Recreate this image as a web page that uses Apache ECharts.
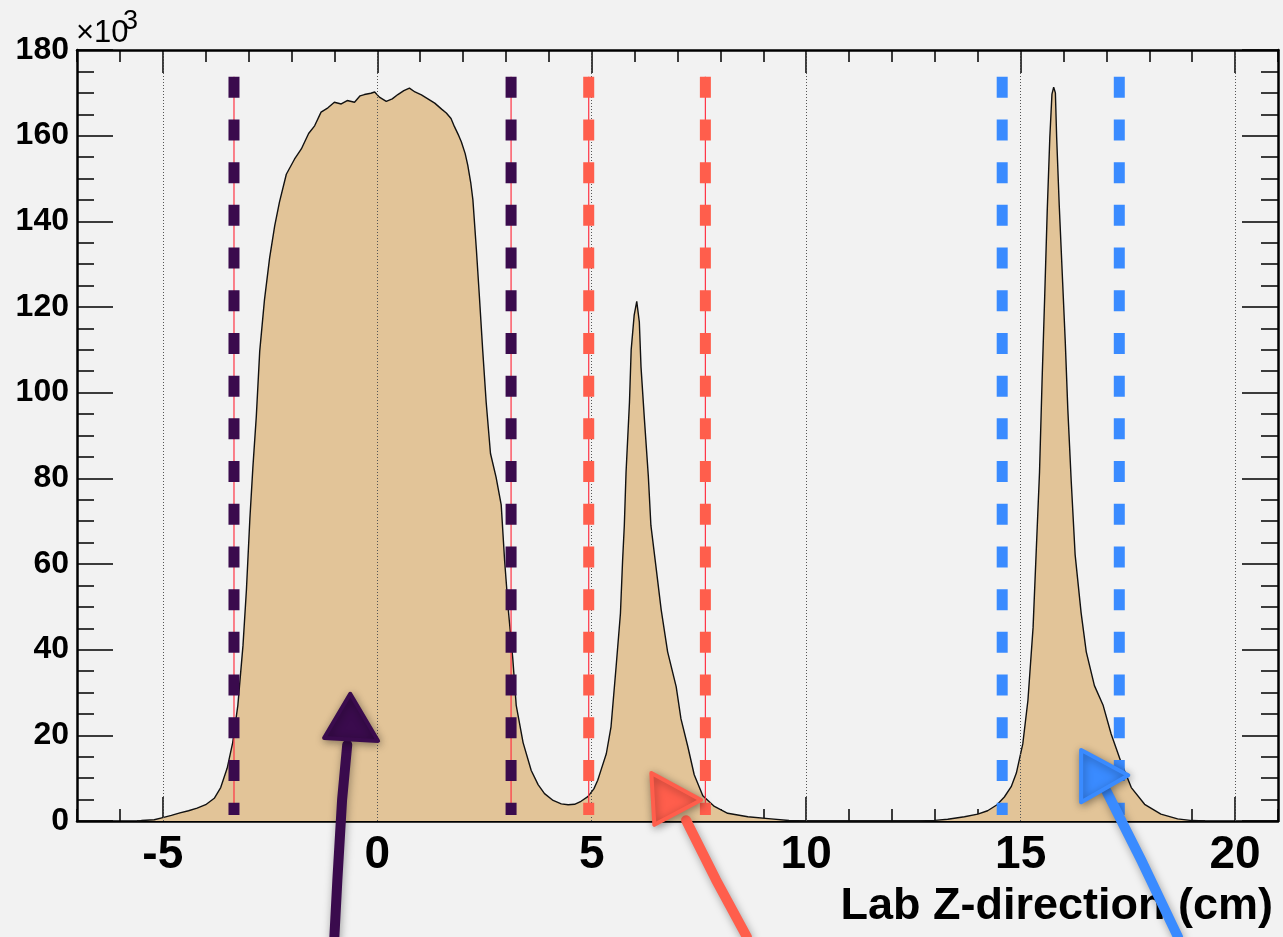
<!DOCTYPE html>
<html>
<head>
<meta charset="utf-8">
<script src="https://cdn.jsdelivr.net/npm/echarts@6/dist/echarts.min.js"></script>
<style>
  html, body { margin: 0; padding: 0; background: #f2f2f2; }
  #chart { width: 1283px; height: 937px; }
</style>
</head>
<body>
<div id="chart"></div>
<script>
// Vertex position along the beam (cm) and counts per bin (x10^3)
const zPos = [
  -5.6, -5.5, -5.2, -5.0, -4.8, -4.6, -4.4, -4.2, -4.0, -3.8, -3.65, -3.5, -3.37, -3.25, -3.13, -3.05,
  -2.97, -2.90, -2.82, -2.74, -2.63, -2.51, -2.39, -2.28, -2.12, -1.93, -1.77, -1.60, -1.46, -1.31,
  -1.15, -1.00, -0.84, -0.70, -0.53, -0.40, -0.30, -0.15, -0.06, 0.05, 0.21, 0.35, 0.48, 0.62, 0.75,
  0.88, 1.03, 1.18, 1.34, 1.50, 1.61, 1.72, 1.80, 1.90, 1.96, 2.05, 2.11, 2.18, 2.23, 2.31, 2.38,
  2.46, 2.54, 2.64, 2.77, 2.89, 2.97, 3.06, 3.16, 3.24, 3.40, 3.59, 3.75, 3.90, 4.10, 4.29, 4.45,
  4.60, 4.75, 4.91, 5.05, 5.14, 5.22, 5.34, 5.45, 5.57, 5.67, 5.72, 5.76, 5.80, 5.88, 5.92, 5.99,
  6.05, 6.11, 6.15, 6.23, 6.32, 6.38, 6.50, 6.62, 6.77, 6.97, 7.08, 7.24, 7.39, 7.59, 7.86, 8.17,
  8.64, 9.18, 9.60, 10.0, 12.6, 13.0, 13.3, 13.69, 14.0, 14.23, 14.45, 14.62, 14.78, 14.90, 15.05,
  15.17, 15.29, 15.36, 15.44, 15.50, 15.56, 15.62, 15.68, 15.73, 15.77, 15.81, 15.84, 15.90, 15.98,
  16.04, 16.10, 16.18, 16.27, 16.41, 16.53, 16.72, 16.92, 17.11, 17.35, 17.58, 17.89, 18.27, 18.66,
  19.0, 19.3
];
const counts = [
  0, 0.1, 0.3, 0.8, 1.3, 1.9, 2.4, 3.0, 3.8, 5.3, 7.8, 12.3, 18.3, 27, 41, 54,
  70.5, 82.5, 94.4, 109.7, 121.6, 131.4, 139, 144.5, 151, 154.5, 156.9, 160.5, 162.3, 165.5,
  166.5, 167.8, 167.4, 168.2, 167.8, 169.3, 169.6, 169.9, 170.2, 169.0, 168.0, 168.6, 169.6, 170.5, 171.1,
  170.2, 169.5, 168.6, 167.6, 166.2, 165.3, 164, 162.1, 160.0, 158.6, 155.8, 153.1, 149, 145, 133.6, 122.7,
  109.7, 97.7, 85.8, 80.3, 73.8, 60.7, 48.8, 37.9, 27, 18.3, 11.8, 8.5, 6.4, 4.8, 4.0, 3.8,
  3.9, 4.6, 5.7, 7.5, 9.5, 12, 15.7, 22, 36.2, 48.5, 60.8, 69, 81.3, 97.7, 110, 118.1,
  121.3, 116.5, 105.9, 93.6, 80.5, 69, 59.2, 49.3, 39.5, 31.3, 23.9, 17.4, 10.8, 5.9, 3.4, 1.8,
  1.0, 0.5, 0.1, 0, 0, 0.15, 0.4, 1.0, 1.6, 2.4, 3.8, 5.6, 8.0, 11.2, 18,
  28.2, 45.2, 62.2, 81.4, 102.9, 122.2, 142.5, 159.5, 169.7, 171.3, 170, 159.5, 143.7, 125.6,
  112, 96.1, 79.2, 62.2, 48.6, 39.5, 31.6, 27.1, 20.3, 13.5, 7.8, 3.9, 1.6, 0.5,
  0.1, 0
];

// Axis ticks and labels
const majorX = [-5, 0, 5, 10, 15, 20];
const xRange = [-7, 21];
const yRange = [0, 180];

// Selection windows (cm) and the span of the window markers (x10^3)
const windowPurple = [-3.34, 3.12];
const windowOrange = [4.93, 7.65];
const windowBlue = [14.57, 17.30];
const markerSpan = [173.75, 1.4];

// Hand-drawn arrows, in axis units: shaft polyline and head triangle
const arrowPurple = { shaft: [[-1.00, -27.1], [-0.93, -13.8], [-0.82, 4.9], [-0.70, 17.8]],
                      head: [[-1.24, 19.4], [-0.63, 29.7], [0.02, 18.7]] };
const arrowOrange = { shaft: [[8.62, -27.1], [7.90, -13.8], [7.20, 0.2]],
                      head: [[6.39, 11.2], [7.55, 4.9], [6.46, -0.9]] };
const arrowBlue   = { shaft: [[18.67, -27.1], [17.81, -9.1], [16.99, 7.2]],
                      head: [[16.41, 16.6], [17.51, 10.7], [16.41, 4.4]] };

const PURPLE = '#3a0b4d';
const ORANGE = '#ff5e4c';
const BLUE = '#3a8bff';
const FILL = '#e2c498';
const FONT = 'Liberation Sans, Arial, Helvetica, sans-serif';

const chart = echarts.init(document.getElementById('chart'), null, { renderer: 'canvas' });

function xAxisDef(pos, major, showLabel) {
  return {
    type: 'value', position: pos, min: xRange[0], max: xRange[1],
    interval: major ? undefined : 1,
    axisLine: { show: major, onZero: false, lineStyle: { color: '#000', width: 2.5 } },
    axisTick: major
      ? { inside: true, length: pos === 'bottom' ? 24 : 23, customValues: majorX, lineStyle: { color: '#000', width: 1.5 } }
      : { inside: true, length: 12, lineStyle: { color: '#000', width: 1.5 } },
    axisLabel: showLabel
      ? { show: true, customValues: majorX, fontSize: 46, fontWeight: 'bold', fontFamily: FONT, color: '#000', margin: 11 }
      : { show: false },
    splitLine: { show: false }
  };
}
function yAxisDef(pos, major, showLabel) {
  return {
    type: 'value', position: pos, min: yRange[0], max: yRange[1],
    interval: major ? 20 : 5,
    axisLine: { show: major, onZero: false, lineStyle: { color: '#000', width: 2.5 } },
    axisTick: { inside: true, length: major ? 36 : 17, lineStyle: { color: '#000', width: 1.5 } },
    axisLabel: showLabel
      ? { show: true, fontSize: 32, fontWeight: 'bold', fontFamily: FONT, color: '#000', margin: 8 }
      : { show: false },
    splitLine: { show: false }
  };
}

function windowSeries(xs, color, withGuide) {
  const out = [];
  xs.forEach(x => {
    const pts = [[x, markerSpan[0]], [x, markerSpan[1]]];
    if (withGuide) {
      out.push({
        type: 'line', data: pts, symbol: 'none', silent: true, z: 4,
        lineStyle: { color: '#ff3344', width: 1.2 }
      });
    }
    out.push({
      type: 'line', data: pts, symbol: 'none', silent: true, z: 5,
      lineStyle: { color: color, width: 11, type: [21, 21.7], cap: 'butt' }
    });
  });
  return out;
}

const histData = zPos.map((z, i) => [z, counts[i]]);

const series = [
  {
    // dotted grid at the labelled x positions
    type: 'line', data: [], silent: true, z: 1,
    markLine: {
      silent: true, symbol: 'none', animation: false,
      label: { show: false },
      lineStyle: { color: '#555', width: 1, type: [1, 2] },
      data: majorX.map(v => ({ xAxis: v }))
    }
  },
  {
    type: 'line', data: histData, symbol: 'none', z: 2,
    lineStyle: { color: '#111', width: 1.4 },
    areaStyle: { color: FILL, opacity: 1 }
  },
  ...windowSeries(windowPurple, PURPLE, true),
  ...windowSeries(windowOrange, ORANGE, true),
  ...windowSeries(windowBlue, BLUE, false)
];

chart.setOption({
  backgroundColor: '#f2f2f2',
  animation: false,
  grid: { left: 77, right: 5, top: 50, bottom: 116, containLabel: false },
  xAxis: [
    xAxisDef('bottom', true, true),
    xAxisDef('bottom', false, false),
    xAxisDef('top', true, false),
    xAxisDef('top', false, false)
  ],
  yAxis: [
    yAxisDef('left', true, true),
    yAxisDef('left', false, false),
    yAxisDef('right', true, false),
    yAxisDef('right', false, false)
  ],
  series: series
});

// Annotations: exponent, axis title and the arrows
function toPx(p) {
  return chart.convertToPixel({ xAxisIndex: 0, yAxisIndex: 0 }, p);
}
function arrowGraphics(a, color) {
  const shadow = { shadowBlur: 8, shadowColor: 'rgba(0,0,0,0.35)', shadowOffsetX: 1, shadowOffsetY: 2 };
  return [
    {
      type: 'polyline', z: 100,
      shape: { points: a.shaft.map(toPx) },
      style: Object.assign({ stroke: color, lineWidth: 10, lineCap: 'round', lineJoin: 'round', fill: null }, shadow)
    },
    {
      type: 'polygon', z: 101,
      shape: { points: a.head.map(toPx) },
      style: Object.assign({ fill: color, stroke: color, lineWidth: 4, lineJoin: 'round' }, shadow)
    }
  ];
}

chart.setOption({
  graphic: [
    { type: 'text', z: 50, style: { x: 76, y: 33, text: '\u00d710', font: 'normal 31px ' + FONT, fill: '#000', textVerticalAlign: 'middle' } },
    { type: 'text', z: 50, style: { x: 123, y: 22, text: '3', font: 'normal 27px ' + FONT, fill: '#000', textVerticalAlign: 'middle' } },
    { type: 'text', z: 50, style: { x: 1273, y: 907, text: 'Lab Z-direction (cm)', font: 'bold 45px ' + FONT, fill: '#000', textAlign: 'right', textVerticalAlign: 'middle' } },
    ...arrowGraphics(arrowPurple, PURPLE),
    ...arrowGraphics(arrowOrange, ORANGE),
    ...arrowGraphics(arrowBlue, BLUE)
  ]
});
</script>
</body>
</html>
